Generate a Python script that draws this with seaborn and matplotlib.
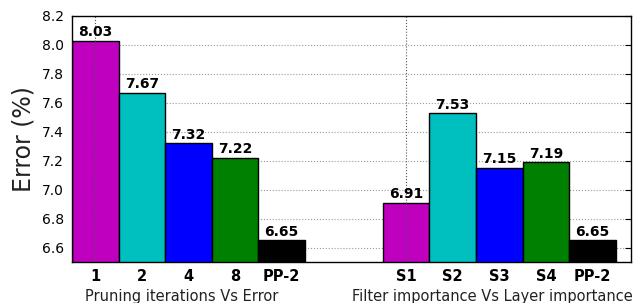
import matplotlib
matplotlib.use("Agg")
import matplotlib.pyplot as plt
import numpy as np
import pandas as pd
import seaborn as sns

# data
iter_labels = ['1', '2', '4', '8', 'PP-2']
iter_error = [8.03, 7.67, 7.32, 7.22, 6.65]
imp_labels = ['S1', 'S2', 'S3', 'S4', 'PP-2']
imp_error = [6.91, 7.53, 7.15, 7.19, 6.65]
group_titles = ['Pruning iterations Vs Error', 'Filter importance Vs Layer importance']
bar_colors = ['#bf00bf', '#00bfbf', '#0000ff', '#008000', '#000000']

gap = 6.67  # offset of the second group
pos = np.concatenate([np.arange(5), np.arange(5) + gap])
df = pd.DataFrame({
    'pos': pos,
    'error': iter_error + imp_error,
    'slot': list(range(5)) * 2,
})

sns.set_style('white')
plt.rcParams['font.family'] = ['DejaVu Sans']
plt.rcParams['text.color'] = 'black'
plt.rcParams['xtick.color'] = 'black'
plt.rcParams['ytick.color'] = 'black'
plt.rcParams['axes.labelcolor'] = 'black'

fig = plt.figure(figsize=(6.41, 3.03), dpi=100)
ax = fig.add_axes([0.1123, 0.1353, 0.8717, 0.8119])

sns.barplot(data=df, x='pos', y='error', hue='slot', palette=bar_colors,
            native_scale=True, dodge=False, width=1.0, saturation=1,
            edgecolor='black', linewidth=1, legend=False, ax=ax, zorder=2)

ax.set_ylim(6.5, 8.2)
ax.set_xlim(-0.5, pos[-1] + 0.82)
ax.set_yticks(np.arange(6.6, 8.21, 0.2))
ax.set_yticklabels([f'{t:.1f}' for t in np.arange(6.6, 8.21, 0.2)], fontsize=10)
ax.set_xticks(pos)
ax.set_xticklabels(iter_labels + imp_labels, fontsize=10.5, fontweight='bold')
ax.tick_params(axis='x', length=0, pad=5)
ax.tick_params(axis='y', direction='in', length=4, right=True, color='black', pad=6)

ax.yaxis.grid(True, linestyle=':', color='#999999', linewidth=0.8, zorder=0)
ax.set_axisbelow(True)
for x in (pos[0], pos[5]):
    ax.axvline(x, linestyle=':', color='#555555', linewidth=0.8, zorder=3)

for sp in ax.spines.values():
    sp.set_color('black')
    sp.set_linewidth(1)

for x, v in zip(df['pos'], df['error']):
    ax.text(x, v + 0.01, f'{v:.2f}', ha='center', va='bottom',
            fontsize=10, fontweight='bold', color='black')

ax.set_xlabel('')
ax.set_ylabel('Error (%)', fontsize=17, color='#222222')

for i, title in enumerate(group_titles):
    xc = pos[i * 5:(i + 1) * 5].mean()
    ax.text(xc - 0.15, -0.11, title, transform=ax.get_xaxis_transform(),
            ha='center', va='top', fontsize=10.5, color='#222222')

fig.savefig('out.png', dpi=100)
